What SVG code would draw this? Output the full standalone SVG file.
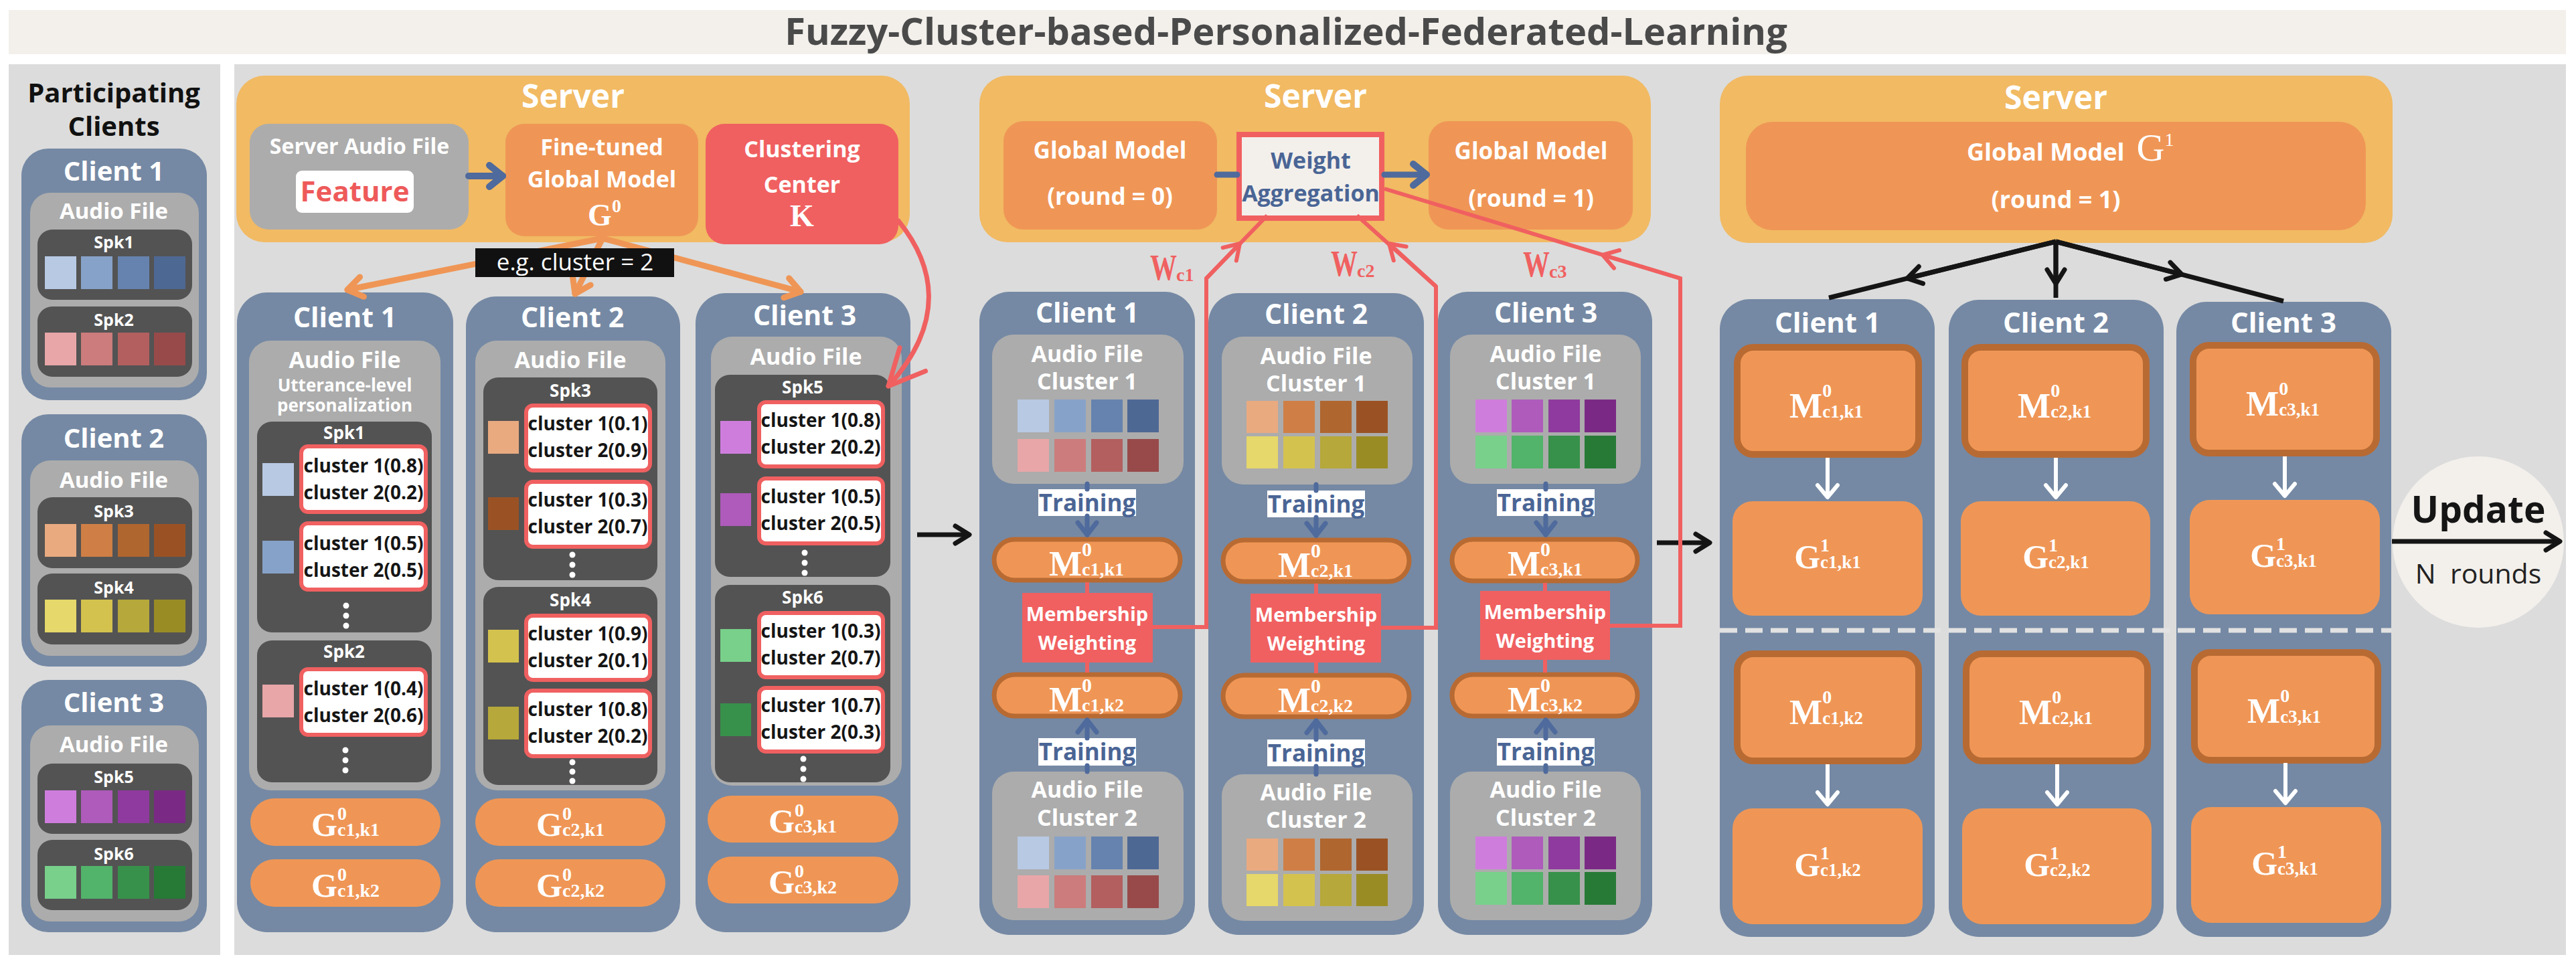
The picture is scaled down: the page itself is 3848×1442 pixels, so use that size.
<svg xmlns="http://www.w3.org/2000/svg" width="3848" height="1442" viewBox="0 0 3848 1442">
<defs>
<style>
.s{font-family:"Open Sans","Liberation Sans",Arial,sans-serif;font-weight:700;text-anchor:middle;fill:#fff}
.r{font-family:"Open Sans","Liberation Sans",Arial,sans-serif;font-weight:400;text-anchor:middle}
.m{font-family:"Liberation Serif","Times New Roman",serif;font-weight:700;text-anchor:middle;fill:#fff}
.wl{font-family:"Liberation Serif","Times New Roman",serif;font-weight:700;fill:#f06060}
.ct{font-family:"Open Sans","Liberation Sans",Arial,sans-serif;font-weight:700;font-size:28px;text-anchor:middle;fill:#151515}
.cl{fill:#7589a4}
.sv{fill:#f1ba63}
.or{fill:#ef9656}
.gy{fill:#acacac}
.sp{fill:#535353}
.rd{fill:#f06060}
.cb{fill:#fff;stroke:#f06060;stroke-width:6}
.mb{fill:#ef9656;stroke:#b86a33;stroke-width:7}
.mb3{fill:#ef9656;stroke:#b86a33;stroke-width:10}
.tb{fill:#fff}
.dt{fill:#fff}
.lb{stroke:#4f6a9c;fill:none;stroke-linecap:round}
.lo{stroke:#ef9656;stroke-width:9;fill:none;stroke-linecap:round}
.lr{stroke:#f06060;stroke-width:6;fill:none}
.lk{stroke:#151515;stroke-width:7;fill:none}
.lw{stroke:#fff;stroke-width:6;fill:none}
</style>
<marker id="aBl" markerUnits="userSpaceOnUse" viewBox="-30 -25 40 50" markerWidth="40" markerHeight="50" refX="0" refY="0" orient="auto" overflow="visible"><path d="M-20,-16 L0,0 L-20,16" fill="none" stroke="#4f6a9c" stroke-width="10" stroke-linecap="round" stroke-linejoin="round"/></marker>
<marker id="aBs" markerUnits="userSpaceOnUse" viewBox="-30 -25 40 50" markerWidth="40" markerHeight="50" refX="0" refY="0" orient="auto" overflow="visible"><path d="M-18,-14 L0,0 L-18,14" fill="none" stroke="#4f6a9c" stroke-width="7" stroke-linecap="round" stroke-linejoin="round"/></marker>
<marker id="aOr" markerUnits="userSpaceOnUse" viewBox="-30 -25 40 50" markerWidth="40" markerHeight="50" refX="0" refY="0" orient="auto" overflow="visible"><path d="M-22,-15 L0,0 L-22,15" fill="none" stroke="#ef9656" stroke-width="9" stroke-linecap="round" stroke-linejoin="round"/></marker>
<marker id="aRd" markerUnits="userSpaceOnUse" viewBox="-60 -35 70 70" markerWidth="70" markerHeight="70" refX="0" refY="0" orient="auto" overflow="visible"><path d="M-54,-26 L0,0 L-54,26" fill="none" stroke="#f06060" stroke-width="7" stroke-linecap="round" stroke-linejoin="round"/></marker>
<marker id="aRs" markerUnits="userSpaceOnUse" viewBox="-30 -25 40 50" markerWidth="40" markerHeight="50" refX="0" refY="0" orient="auto" overflow="visible"><path d="M-22,-14 L0,0 L-22,14" fill="none" stroke="#f06060" stroke-width="6" stroke-linecap="round" stroke-linejoin="round"/></marker>
<marker id="aBk" markerUnits="userSpaceOnUse" viewBox="-30 -25 40 50" markerWidth="40" markerHeight="50" refX="0" refY="0" orient="auto" overflow="visible"><path d="M-21,-13 L0,0 L-21,13" fill="none" stroke="#151515" stroke-width="7" stroke-linecap="round" stroke-linejoin="round"/></marker>
<marker id="aWt" markerUnits="userSpaceOnUse" viewBox="-30 -25 40 50" markerWidth="40" markerHeight="50" refX="0" refY="0" orient="auto" overflow="visible"><path d="M-18,-15 L0,0 L-18,15" fill="none" stroke="#fff" stroke-width="6" stroke-linecap="round" stroke-linejoin="round"/></marker>
</defs>

<rect width="3848" height="1442" fill="#fff"/>
<g id="title">
<rect x="13" y="15" width="3820" height="66" fill="#f3f0ec"/>
<text class="s" x="1921" y="67" font-size="56" style="fill:#4a4a4a">Fuzzy-Cluster-based-Personalized-Federated-Learning</text>
</g>
<g id="panels">
<rect x="13" y="96" width="316" height="1331" fill="#dcdcdc"/>
<rect x="350" y="96" width="3483" height="1331" fill="#dcdcdc"/>
</g>

<g id="participating-clients">
<text class="s" x="170" y="153" font-size="40" style="fill:#111">Participating</text>
<text class="s" x="170" y="203" font-size="40" style="fill:#111">Clients</text>
</g>
<g id="pc-client1">
<rect class="cl" x="32" y="222" width="277" height="376" rx="40"/>
<text class="s" x="170" y="270" font-size="40">Client 1</text>
<rect class="gy" x="45" y="288" width="252" height="291" rx="30"/>
<text class="s" x="170" y="327" font-size="33">Audio File</text>
<rect class="sp" x="56" y="343" width="231" height="105" rx="22"/>
<text class="s" x="170" y="371" font-size="25">Spk1</text>
<rect x="67" y="383" width="47" height="49" fill="#b8c9e4"/><rect x="121" y="383" width="47" height="49" fill="#87a2c9"/><rect x="176" y="383" width="47" height="49" fill="#6583ae"/><rect x="230" y="383" width="47" height="49" fill="#4e6894"/>
<rect class="sp" x="56" y="458" width="231" height="105" rx="22"/>
<text class="s" x="170" y="487" font-size="25">Spk2</text>
<rect x="67" y="497" width="47" height="49" fill="#e8a6a8"/><rect x="121" y="497" width="47" height="49" fill="#cc7c7c"/><rect x="176" y="497" width="47" height="49" fill="#b35f5f"/><rect x="230" y="497" width="47" height="49" fill="#984a4a"/>
</g>
<g id="pc-client2">
<rect class="cl" x="32" y="619" width="277" height="377" rx="40"/>
<text class="s" x="170" y="669" font-size="40">Client 2</text>
<rect class="gy" x="45" y="688" width="252" height="292" rx="30"/>
<text class="s" x="170" y="729" font-size="33">Audio File</text>
<rect class="sp" x="56" y="743" width="231" height="106" rx="22"/>
<text class="s" x="170" y="773" font-size="25">Spk3</text>
<rect x="67" y="783" width="47" height="49" fill="#e9aa80"/><rect x="121" y="783" width="47" height="49" fill="#cf7f45"/><rect x="176" y="783" width="47" height="49" fill="#b0662f"/><rect x="230" y="783" width="47" height="49" fill="#9a5224"/>
<rect class="sp" x="56" y="857" width="231" height="106" rx="22"/>
<text class="s" x="170" y="887" font-size="25">Spk4</text>
<rect x="67" y="896" width="47" height="49" fill="#e6d86a"/><rect x="121" y="896" width="47" height="49" fill="#d4c24e"/><rect x="176" y="896" width="47" height="49" fill="#b6a83a"/><rect x="230" y="896" width="47" height="49" fill="#9a8c25"/>
</g>
<g id="pc-client3">
<rect class="cl" x="32" y="1016" width="277" height="377" rx="40"/>
<text class="s" x="170" y="1064" font-size="40">Client 3</text>
<rect class="gy" x="45" y="1084" width="252" height="293" rx="30"/>
<text class="s" x="170" y="1124" font-size="33">Audio File</text>
<rect class="sp" x="56" y="1141" width="231" height="105" rx="22"/>
<text class="s" x="170" y="1170" font-size="25">Spk5</text>
<rect x="67" y="1181" width="47" height="49" fill="#cf7ddd"/><rect x="121" y="1181" width="47" height="49" fill="#ae5bbb"/><rect x="176" y="1181" width="47" height="49" fill="#8f3a9e"/><rect x="230" y="1181" width="47" height="49" fill="#7a2a85"/>
<rect class="sp" x="56" y="1255" width="231" height="105" rx="22"/>
<text class="s" x="170" y="1285" font-size="25">Spk6</text>
<rect x="67" y="1294" width="47" height="49" fill="#78d08a"/><rect x="121" y="1294" width="47" height="49" fill="#52b36a"/><rect x="176" y="1294" width="47" height="49" fill="#37914a"/><rect x="230" y="1294" width="47" height="49" fill="#267a36"/>
</g>

<g id="s1-server">
<rect class="sv" x="353" y="113" width="1006" height="249" rx="42"/>
<text class="s" x="856" y="161" font-size="48">Server</text>
</g>
<g id="s1-server-audio">
<rect class="gy" x="373" y="185" width="327" height="158" rx="28"/>
<text class="s" x="537" y="230" font-size="32">Server Audio File</text>
<rect x="442" y="255" width="176" height="63" rx="9" fill="#fff"/>
<text class="s" x="530" y="301" font-size="42" style="fill:#ee5a5a">Feature</text>
</g>
<g id="s1-finetuned">
<rect class="or" x="755" y="185" width="288" height="168" rx="28"/>
<text class="s" x="899" y="232" font-size="34">Fine-tuned</text>
<text class="s" x="899" y="280" font-size="34">Global Model</text>
<text class="m" x="903" y="337" font-size="46">G<tspan font-size="28" dy="-20">0</tspan></text>
</g>
<g id="s1-clustering">
<rect class="rd" x="1054" y="185" width="288" height="180" rx="28"/>
<text class="s" x="1198" y="235" font-size="34">Clustering</text>
<text class="s" x="1198" y="288" font-size="34">Center</text>
<text class="m" x="1198" y="338" font-size="46">K</text>
</g>

<g id="s1-client1">
<rect class="cl" x="354" y="437" width="323" height="956" rx="45"/>
<text class="s" x="515" y="489" font-size="41">Client 1</text>
<rect class="gy" x="372" y="509" width="286" height="672" rx="32"/>
<text class="s" x="515" y="550" font-size="34">Audio File</text>
<text class="s" x="515" y="585" font-size="26">Utterance-level</text>
<text class="s" x="515" y="615" font-size="26">personalization</text>
<rect class="sp" x="384" y="630" width="261" height="315" rx="22"/>
<text class="s" x="514" y="656" font-size="26">Spk1</text>
<rect x="392" y="692" width="47" height="49" fill="#b8c9e4"/>
<rect class="cb" x="450" y="667" width="186" height="98" rx="10"/>
<text class="ct" x="543" y="706">cluster 1(0.8)</text><text class="ct" x="543" y="746">cluster 2(0.2)</text>
<rect x="392" y="808" width="47" height="49" fill="#87a2c9"/>
<rect class="cb" x="450" y="782" width="186" height="99" rx="10"/>
<text class="ct" x="543" y="822">cluster 1(0.5)</text><text class="ct" x="543" y="862">cluster 2(0.5)</text>
<circle class="dt" cx="517" cy="905" r="4.5"/><circle class="dt" cx="517" cy="920" r="4.5"/><circle class="dt" cx="517" cy="935" r="4.5"/>
<rect class="sp" x="384" y="957" width="261" height="212" rx="22"/>
<text class="s" x="514" y="983" font-size="26">Spk2</text>
<rect x="392" y="1023" width="47" height="49" fill="#e8a6a8"/>
<rect class="cb" x="450" y="1000" width="186" height="98" rx="10"/>
<text class="ct" x="543" y="1039">cluster 1(0.4)</text><text class="ct" x="543" y="1079">cluster 2(0.6)</text>
<circle class="dt" cx="516" cy="1121" r="4.5"/><circle class="dt" cx="516" cy="1136" r="4.5"/><circle class="dt" cx="516" cy="1151" r="4.5"/>
<rect class="or" x="374" y="1193" width="284" height="71" rx="35.5"/>
<text class="m" x="516" y="1249" font-size="50">G<tspan font-size="28" dy="-24">0</tspan><tspan font-size="28" dx="-14" dy="24">c1,k1</tspan></text>
<rect class="or" x="374" y="1284" width="284" height="71" rx="35.5"/>
<text class="m" x="516" y="1340" font-size="50">G<tspan font-size="28" dy="-24">0</tspan><tspan font-size="28" dx="-14" dy="24">c1,k2</tspan></text>
</g>
<g id="s1-client2">
<rect class="cl" x="696" y="443" width="320" height="950" rx="45"/>
<text class="s" x="855" y="489" font-size="41">Client 2</text>
<rect class="gy" x="710" y="509" width="284" height="672" rx="32"/>
<text class="s" x="852" y="550" font-size="34">Audio File</text>
<rect class="sp" x="722" y="564" width="260" height="303" rx="22"/>
<text class="s" x="852" y="593" font-size="26">Spk3</text>
<rect x="729" y="629" width="46" height="49" fill="#e9aa80"/>
<rect class="cb" x="786" y="606" width="185" height="97" rx="10"/>
<text class="ct" x="878" y="643">cluster 1(0.1)</text><text class="ct" x="878" y="683">cluster 2(0.9)</text>
<rect x="729" y="743" width="46" height="49" fill="#9a5224"/>
<rect class="cb" x="786" y="720" width="185" height="97" rx="10"/>
<text class="ct" x="878" y="757">cluster 1(0.3)</text><text class="ct" x="878" y="797">cluster 2(0.7)</text>
<circle class="dt" cx="855" cy="829" r="4.5"/><circle class="dt" cx="855" cy="844" r="4.5"/><circle class="dt" cx="855" cy="859" r="4.5"/>
<rect class="sp" x="722" y="877" width="260" height="296" rx="22"/>
<text class="s" x="852" y="906" font-size="26">Spk4</text>
<rect x="729" y="941" width="46" height="49" fill="#d4c24e"/>
<rect class="cb" x="786" y="920" width="185" height="96" rx="10"/>
<text class="ct" x="878" y="957">cluster 1(0.9)</text><text class="ct" x="878" y="997">cluster 2(0.1)</text>
<rect x="729" y="1056" width="46" height="49" fill="#b6a83a"/>
<rect class="cb" x="786" y="1032" width="185" height="98" rx="10"/>
<text class="ct" x="878" y="1070">cluster 1(0.8)</text><text class="ct" x="878" y="1110">cluster 2(0.2)</text>
<circle class="dt" cx="855" cy="1139" r="4.5"/><circle class="dt" cx="855" cy="1153" r="4.5"/><circle class="dt" cx="855" cy="1167" r="4.5"/>
<rect class="or" x="710" y="1193" width="284" height="71" rx="35.5"/>
<text class="m" x="852" y="1249" font-size="50">G<tspan font-size="28" dy="-24">0</tspan><tspan font-size="28" dx="-14" dy="24">c2,k1</tspan></text>
<rect class="or" x="710" y="1284" width="284" height="71" rx="35.5"/>
<text class="m" x="852" y="1340" font-size="50">G<tspan font-size="28" dy="-24">0</tspan><tspan font-size="28" dx="-14" dy="24">c2,k2</tspan></text>
</g>
<g id="s1-client3">
<rect class="cl" x="1039" y="438" width="321" height="955" rx="45"/>
<text class="s" x="1202" y="486" font-size="41">Client 3</text>
<rect class="gy" x="1062" y="503" width="285" height="671" rx="32"/>
<text class="s" x="1204" y="545" font-size="34">Audio File</text>
<rect class="sp" x="1068" y="560" width="262" height="302" rx="22"/>
<text class="s" x="1199" y="588" font-size="26">Spk5</text>
<rect x="1076" y="629" width="46" height="49" fill="#cf7ddd"/>
<rect class="cb" x="1134" y="601" width="185" height="96" rx="10"/>
<text class="ct" x="1226" y="638">cluster 1(0.8)</text><text class="ct" x="1226" y="678">cluster 2(0.2)</text>
<rect x="1076" y="737" width="46" height="49" fill="#ae5bbb"/>
<rect class="cb" x="1134" y="715" width="185" height="97" rx="10"/>
<text class="ct" x="1226" y="752">cluster 1(0.5)</text><text class="ct" x="1226" y="792">cluster 2(0.5)</text>
<circle class="dt" cx="1202" cy="826" r="4.5"/><circle class="dt" cx="1202" cy="841" r="4.5"/><circle class="dt" cx="1202" cy="856" r="4.5"/>
<rect class="sp" x="1068" y="874" width="262" height="295" rx="22"/>
<text class="s" x="1199" y="902" font-size="26">Spk6</text>
<rect x="1076" y="940" width="46" height="49" fill="#78d08a"/>
<rect class="cb" x="1134" y="916" width="185" height="96" rx="10"/>
<text class="ct" x="1226" y="953">cluster 1(0.3)</text><text class="ct" x="1226" y="993">cluster 2(0.7)</text>
<rect x="1076" y="1051" width="46" height="49" fill="#37914a"/>
<rect class="cb" x="1134" y="1028" width="185" height="95" rx="10"/>
<text class="ct" x="1226" y="1064">cluster 1(0.7)</text><text class="ct" x="1226" y="1104">cluster 2(0.3)</text>
<circle class="dt" cx="1200" cy="1134" r="4.5"/><circle class="dt" cx="1200" cy="1149" r="4.5"/><circle class="dt" cx="1200" cy="1164" r="4.5"/>
<rect class="or" x="1057" y="1189" width="285" height="70" rx="35"/>
<text class="m" x="1199" y="1244" font-size="50">G<tspan font-size="28" dy="-24">0</tspan><tspan font-size="28" dx="-14" dy="24">c3,k1</tspan></text>
<rect class="or" x="1057" y="1280" width="285" height="70" rx="35"/>
<text class="m" x="1199" y="1335" font-size="50">G<tspan font-size="28" dy="-24">0</tspan><tspan font-size="28" dx="-14" dy="24">c3,k2</tspan></text>
</g>

<g id="s2-server">
<rect class="sv" x="1463" y="113" width="1003" height="249" rx="42"/>
<text class="s" x="1965" y="161" font-size="48">Server</text>
</g>
<g id="s2-global0">
<rect class="or" x="1499" y="181" width="319" height="162" rx="30"/>
<text class="s" x="1658" y="237" font-size="35">Global Model</text>
<text class="s" x="1658" y="306" font-size="35">(round = 0)</text>
</g>
<g id="s2-aggregation">
<rect x="1851" y="201" width="213" height="125" fill="#f3f0ec" stroke="#f06060" stroke-width="8"/>
<text class="s" x="1958" y="252" font-size="34" style="fill:#4a6595">Weight</text>
<text class="s" x="1958" y="301" font-size="34" style="fill:#4a6595">Aggregation</text>
</g>
<g id="s2-global1">
<rect class="or" x="2134" y="181" width="305" height="162" rx="30"/>
<text class="s" x="2287" y="238" font-size="35">Global Model</text>
<text class="s" x="2287" y="309" font-size="35">(round = 1)</text>
</g>

<g id="s2-client1">
<rect class="cl" x="1463" y="436" width="322" height="961" rx="45"/>
<text class="s" x="1624" y="482" font-size="41">Client 1</text>
<rect class="gy" x="1482" y="500" width="286" height="223" rx="32"/>
<text class="s" x="1624" y="541" font-size="34">Audio File</text>
<text class="s" x="1624" y="582" font-size="34">Cluster 1</text>
<rect x="1520" y="597" width="47" height="49" fill="#b8c9e4"/><rect x="1575" y="597" width="47" height="49" fill="#87a2c9"/><rect x="1630" y="597" width="47" height="49" fill="#6583ae"/><rect x="1684" y="597" width="47" height="49" fill="#4e6894"/>
<rect x="1520" y="656" width="47" height="49" fill="#e8a6a8"/><rect x="1575" y="656" width="47" height="49" fill="#cc7c7c"/><rect x="1630" y="656" width="47" height="49" fill="#b35f5f"/><rect x="1684" y="656" width="47" height="49" fill="#984a4a"/>
<rect class="tb" x="1551" y="731" width="146" height="40"/>
<text class="s" x="1624" y="764" font-size="35" style="fill:#4a6595">Training</text>
<rect class="mb" x="1485" y="806" width="278" height="61" rx="30.5"/>
<text class="m" x="1623" y="860" font-size="52">M<tspan font-size="30" dy="-29">0</tspan><tspan font-size="28" dx="-15" dy="29">c1,k1</tspan></text>
<rect class="rd" x="1527" y="886" width="195" height="104"/>
<text class="s" x="1624" y="928" font-size="29">Membership</text>
<text class="s" x="1624" y="971" font-size="29">Weighting</text>
<rect class="mb" x="1485" y="1008" width="278" height="62" rx="31"/>
<text class="m" x="1623" y="1063" font-size="52">M<tspan font-size="30" dy="-29">0</tspan><tspan font-size="28" dx="-15" dy="29">c1,k2</tspan></text>
<rect class="tb" x="1551" y="1103" width="146" height="41"/>
<text class="s" x="1624" y="1136" font-size="35" style="fill:#4a6595">Training</text>
<rect class="gy" x="1482" y="1153" width="286" height="222" rx="32"/>
<text class="s" x="1624" y="1192" font-size="34">Audio File</text>
<text class="s" x="1624" y="1234" font-size="34">Cluster 2</text>
<rect x="1520" y="1250" width="47" height="49" fill="#b8c9e4"/><rect x="1575" y="1250" width="47" height="49" fill="#87a2c9"/><rect x="1630" y="1250" width="47" height="49" fill="#6583ae"/><rect x="1684" y="1250" width="47" height="49" fill="#4e6894"/>
<rect x="1520" y="1308" width="47" height="49" fill="#e8a6a8"/><rect x="1575" y="1308" width="47" height="49" fill="#cc7c7c"/><rect x="1630" y="1308" width="47" height="49" fill="#b35f5f"/><rect x="1684" y="1308" width="47" height="49" fill="#984a4a"/>
</g>
<g id="s2-client2">
<rect class="cl" x="1805" y="438" width="322" height="959" rx="45"/>
<text class="s" x="1966" y="484" font-size="41">Client 2</text>
<rect class="gy" x="1825" y="503" width="285" height="221" rx="32"/>
<text class="s" x="1966" y="544" font-size="34">Audio File</text>
<text class="s" x="1966" y="585" font-size="34">Cluster 1</text>
<rect x="1862" y="599" width="47" height="48" fill="#e9aa80"/><rect x="1917" y="599" width="47" height="48" fill="#cf7f45"/><rect x="1972" y="599" width="47" height="48" fill="#b0662f"/><rect x="2026" y="599" width="47" height="48" fill="#9a5224"/>
<rect x="1862" y="652" width="47" height="48" fill="#e6d86a"/><rect x="1917" y="652" width="47" height="48" fill="#d4c24e"/><rect x="1972" y="652" width="47" height="48" fill="#b6a83a"/><rect x="2026" y="652" width="47" height="48" fill="#9a8c25"/>
<rect class="tb" x="1893" y="733" width="146" height="40"/>
<text class="s" x="1966" y="766" font-size="35" style="fill:#4a6595">Training</text>
<rect class="mb" x="1827" y="807" width="278" height="62" rx="31"/>
<text class="m" x="1965" y="862" font-size="52">M<tspan font-size="30" dy="-29">0</tspan><tspan font-size="28" dx="-15" dy="29">c2,k1</tspan></text>
<rect class="rd" x="1868" y="887" width="195" height="103"/>
<text class="s" x="1966" y="929" font-size="29">Membership</text>
<text class="s" x="1966" y="972" font-size="29">Weighting</text>
<rect class="mb" x="1827" y="1009" width="278" height="62" rx="31"/>
<text class="m" x="1965" y="1064" font-size="52">M<tspan font-size="30" dy="-29">0</tspan><tspan font-size="28" dx="-15" dy="29">c2,k2</tspan></text>
<rect class="tb" x="1893" y="1105" width="146" height="40"/>
<text class="s" x="1966" y="1138" font-size="35" style="fill:#4a6595">Training</text>
<rect class="gy" x="1825" y="1157" width="285" height="219" rx="32"/>
<text class="s" x="1966" y="1196" font-size="34">Audio File</text>
<text class="s" x="1966" y="1237" font-size="34">Cluster 2</text>
<rect x="1862" y="1253" width="47" height="48" fill="#e9aa80"/><rect x="1917" y="1253" width="47" height="48" fill="#cf7f45"/><rect x="1972" y="1253" width="47" height="48" fill="#b0662f"/><rect x="2026" y="1253" width="47" height="48" fill="#9a5224"/>
<rect x="1862" y="1306" width="47" height="48" fill="#e6d86a"/><rect x="1917" y="1306" width="47" height="48" fill="#d4c24e"/><rect x="1972" y="1306" width="47" height="48" fill="#b6a83a"/><rect x="2026" y="1306" width="47" height="48" fill="#9a8c25"/>
</g>
<g id="s2-client3">
<rect class="cl" x="2148" y="436" width="320" height="961" rx="45"/>
<text class="s" x="2309" y="482" font-size="41">Client 3</text>
<rect class="gy" x="2166" y="500" width="285" height="223" rx="32"/>
<text class="s" x="2309" y="541" font-size="34">Audio File</text>
<text class="s" x="2309" y="582" font-size="34">Cluster 1</text>
<rect x="2204" y="597" width="47" height="49" fill="#cf7ddd"/><rect x="2258" y="597" width="47" height="49" fill="#ae5bbb"/><rect x="2313" y="597" width="47" height="49" fill="#8f3a9e"/><rect x="2367" y="597" width="47" height="49" fill="#7a2a85"/>
<rect x="2204" y="651" width="47" height="49" fill="#78d08a"/><rect x="2258" y="651" width="47" height="49" fill="#52b36a"/><rect x="2313" y="651" width="47" height="49" fill="#37914a"/><rect x="2367" y="651" width="47" height="49" fill="#267a36"/>
<rect class="tb" x="2236" y="731" width="146" height="40"/>
<text class="s" x="2309" y="764" font-size="35" style="fill:#4a6595">Training</text>
<rect class="mb" x="2169" y="806" width="277" height="62" rx="31"/>
<text class="m" x="2308" y="860" font-size="52">M<tspan font-size="30" dy="-29">0</tspan><tspan font-size="28" dx="-15" dy="29">c3,k1</tspan></text>
<rect class="rd" x="2211" y="883" width="194" height="103"/>
<text class="s" x="2308" y="925" font-size="29">Membership</text>
<text class="s" x="2308" y="968" font-size="29">Weighting</text>
<rect class="mb" x="2169" y="1008" width="277" height="62" rx="31"/>
<text class="m" x="2308" y="1063" font-size="52">M<tspan font-size="30" dy="-29">0</tspan><tspan font-size="28" dx="-15" dy="29">c3,k2</tspan></text>
<rect class="tb" x="2236" y="1103" width="146" height="41"/>
<text class="s" x="2309" y="1136" font-size="35" style="fill:#4a6595">Training</text>
<rect class="gy" x="2166" y="1153" width="285" height="222" rx="32"/>
<text class="s" x="2309" y="1192" font-size="34">Audio File</text>
<text class="s" x="2309" y="1234" font-size="34">Cluster 2</text>
<rect x="2204" y="1250" width="47" height="49" fill="#cf7ddd"/><rect x="2258" y="1250" width="47" height="49" fill="#ae5bbb"/><rect x="2313" y="1250" width="47" height="49" fill="#8f3a9e"/><rect x="2367" y="1250" width="47" height="49" fill="#7a2a85"/>
<rect x="2204" y="1303" width="47" height="49" fill="#78d08a"/><rect x="2258" y="1303" width="47" height="49" fill="#52b36a"/><rect x="2313" y="1303" width="47" height="49" fill="#37914a"/><rect x="2367" y="1303" width="47" height="49" fill="#267a36"/>
</g>

<g id="s3-server">
<rect class="sv" x="2569" y="113" width="1005" height="250" rx="42"/>
<text class="s" x="3071" y="163" font-size="48">Server</text>
<rect class="or" x="2608" y="182" width="926" height="162" rx="40"/>
<text class="s" x="2938" y="240" font-size="36" style="text-anchor:start">Global Model<tspan dx="18" font-family="Liberation Serif, Times New Roman, serif" font-weight="400" font-size="58">G</tspan><tspan font-family="Liberation Serif, Times New Roman, serif" font-weight="400" font-size="28" dy="-22">1</tspan></text>
<text class="s" x="3071" y="311" font-size="36">(round = 1)</text>
</g>
<g id="s3-client1">
<rect class="cl" x="2569" y="447" width="321" height="953" rx="45"/>
<text class="s" x="2730" y="497" font-size="42">Client 1</text>
<rect class="mb3" x="2595" y="519" width="271" height="160" rx="24"/>
<text class="m" x="2728" y="624" font-size="52">M<tspan font-size="28" dy="-31">0</tspan><tspan font-size="27" dx="-14" dy="31">c1,k1</tspan></text>
<rect class="or" x="2588" y="749" width="284" height="171" rx="30"/>
<text class="m" x="2730" y="849" font-size="50">G<tspan font-size="28" dy="-25">1</tspan><tspan font-size="27" dx="-14" dy="25">c1,k1</tspan></text>
<rect class="mb3" x="2595" y="977" width="271" height="160" rx="24"/>
<text class="m" x="2728" y="1082" font-size="52">M<tspan font-size="28" dy="-31">0</tspan><tspan font-size="27" dx="-14" dy="31">c1,k2</tspan></text>
<rect class="or" x="2588" y="1208" width="284" height="173" rx="30"/>
<text class="m" x="2730" y="1309" font-size="50">G<tspan font-size="28" dy="-25">1</tspan><tspan font-size="27" dx="-14" dy="25">c1,k2</tspan></text>
</g>
<g id="s3-client2">
<rect class="cl" x="2911" y="448" width="321" height="952" rx="45"/>
<text class="s" x="3071" y="497" font-size="42">Client 2</text>
<rect class="mb3" x="2935" y="519" width="271" height="160" rx="24"/>
<text class="m" x="3069" y="624" font-size="52">M<tspan font-size="28" dy="-31">0</tspan><tspan font-size="27" dx="-14" dy="31">c2,k1</tspan></text>
<rect class="or" x="2929" y="749" width="283" height="171" rx="30"/>
<text class="m" x="3071" y="849" font-size="50">G<tspan font-size="28" dy="-25">1</tspan><tspan font-size="27" dx="-14" dy="25">c2,k1</tspan></text>
<rect class="mb3" x="2937" y="977" width="271" height="160" rx="24"/>
<text class="m" x="3071" y="1082" font-size="52">M<tspan font-size="28" dy="-31">0</tspan><tspan font-size="27" dx="-14" dy="31">c2,k1</tspan></text>
<rect class="or" x="2931" y="1208" width="283" height="173" rx="30"/>
<text class="m" x="3073" y="1309" font-size="50">G<tspan font-size="28" dy="-25">1</tspan><tspan font-size="27" dx="-14" dy="25">c2,k2</tspan></text>
</g>
<g id="s3-client3">
<rect class="cl" x="3251" y="451" width="321" height="949" rx="45"/>
<text class="s" x="3411" y="497" font-size="42">Client 3</text>
<rect class="mb3" x="3276" y="516" width="274" height="161" rx="24"/>
<text class="m" x="3410" y="621" font-size="52">M<tspan font-size="28" dy="-31">0</tspan><tspan font-size="27" dx="-14" dy="31">c3,k1</tspan></text>
<rect class="or" x="3271" y="747" width="284" height="171" rx="30"/>
<text class="m" x="3411" y="847" font-size="50">G<tspan font-size="28" dy="-25">1</tspan><tspan font-size="27" dx="-14" dy="25">c3,k1</tspan></text>
<rect class="mb3" x="3278" y="975" width="274" height="161" rx="24"/>
<text class="m" x="3412" y="1080" font-size="52">M<tspan font-size="28" dy="-31">0</tspan><tspan font-size="27" dx="-14" dy="31">c3,k1</tspan></text>
<rect class="or" x="3273" y="1206" width="284" height="173" rx="30"/>
<text class="m" x="3413" y="1307" font-size="50">G<tspan font-size="28" dy="-25">1</tspan><tspan font-size="27" dx="-14" dy="25">c3,k1</tspan></text>
</g>
<g id="update">
<circle cx="3702" cy="810" r="128" fill="#f3f0ec"/>
<text class="s" x="3702" y="781" font-size="55" style="fill:#151515">Update</text>
<text class="r" x="3702" y="872" font-size="41" fill="#222" style="white-space:pre">N  rounds</text>
</g>

<g id="connectors">
<line class="lb" x1="700" y1="263" x2="751" y2="263" stroke-width="10" marker-end="url(#aBl)"/>
<line class="lo" x1="900" y1="356" x2="519" y2="433" marker-end="url(#aOr)"/>
<line class="lo" x1="900" y1="356" x2="859" y2="439" marker-end="url(#aOr)"/>
<line class="lo" x1="900" y1="356" x2="1196" y2="436" marker-end="url(#aOr)"/>
<path d="M1342,330 C1395,395 1415,480 1327,577" fill="none" stroke="#f06060" stroke-width="7" stroke-linecap="round" marker-end="url(#aRd)"/>
<line class="lk" x1="1370" y1="799" x2="1448" y2="799" marker-end="url(#aBk)"/>
<line class="lk" x1="2475" y1="811" x2="2554" y2="811" marker-end="url(#aBk)"/>
<line class="lb" x1="1818" y1="261" x2="1848" y2="261" stroke-width="9"/>
<line class="lb" x1="2068" y1="261" x2="2131" y2="261" stroke-width="9" marker-end="url(#aBl)"/>
<line class="lb" x1="1624" y1="723" x2="1624" y2="731" stroke-width="7"/>
<line class="lb" x1="1624" y1="771" x2="1624" y2="799" stroke-width="7" marker-end="url(#aBs)"/>
<line class="lb" x1="1624" y1="1153" x2="1624" y2="1144" stroke-width="7"/>
<line class="lb" x1="1624" y1="1103" x2="1624" y2="1076" stroke-width="7" marker-end="url(#aBs)"/>
<line class="lb" x1="1966" y1="724" x2="1966" y2="733" stroke-width="7"/>
<line class="lb" x1="1966" y1="773" x2="1966" y2="800" stroke-width="7" marker-end="url(#aBs)"/>
<line class="lb" x1="1966" y1="1157" x2="1966" y2="1145" stroke-width="7"/>
<line class="lb" x1="1966" y1="1105" x2="1966" y2="1077" stroke-width="7" marker-end="url(#aBs)"/>
<line class="lb" x1="2309" y1="723" x2="2309" y2="731" stroke-width="7"/>
<line class="lb" x1="2309" y1="771" x2="2309" y2="799" stroke-width="7" marker-end="url(#aBs)"/>
<line class="lb" x1="2309" y1="1153" x2="2309" y2="1144" stroke-width="7"/>
<line class="lb" x1="2309" y1="1103" x2="2309" y2="1076" stroke-width="7" marker-end="url(#aBs)"/>
<line class="lr" x1="1624" y1="870" x2="1624" y2="886" stroke-width="7"/>
<line class="lr" x1="1624" y1="990" x2="1624" y2="1005" stroke-width="7"/>
<line class="lr" x1="1966" y1="872" x2="1966" y2="887" stroke-width="7"/>
<line class="lr" x1="1966" y1="990" x2="1966" y2="1006" stroke-width="7"/>
<line class="lr" x1="2308" y1="871" x2="2308" y2="883" stroke-width="7"/>
<line class="lr" x1="2308" y1="986" x2="2308" y2="1005" stroke-width="7"/>
<polyline class="lr" points="1722,937 1802,937 1802,416 1893,322"/>
<line class="lr" x1="1802" y1="416" x2="1852" y2="364" marker-end="url(#aRs)"/>
<polyline class="lr" points="2063,938 2145,938 2145,428 2027,322"/>
<line class="lr" x1="2145" y1="428" x2="2075" y2="364" marker-end="url(#aRs)"/>
<polyline class="lr" points="2405,935 2510,935 2510,416 2068,282"/>
<line class="lr" x1="2510" y1="416" x2="2394" y2="381" marker-end="url(#aRs)"/>
<line class="lk" x1="3071" y1="361" x2="2732" y2="445" stroke-width="6"/>
<line class="lk" x1="3071" y1="361" x2="2849" y2="416" stroke-width="6" marker-end="url(#aBk)"/>
<line class="lk" x1="3071" y1="361" x2="3071" y2="445" stroke-width="6"/>
<line class="lk" x1="3071" y1="361" x2="3071" y2="424" stroke-width="6" marker-end="url(#aBk)"/>
<line class="lk" x1="3071" y1="361" x2="3411" y2="450" stroke-width="6"/>
<line class="lk" x1="3071" y1="361" x2="3259" y2="410" stroke-width="6" marker-end="url(#aBk)"/>
<line class="lw" x1="2730" y1="684" x2="2730" y2="743" marker-end="url(#aWt)"/>
<line class="lw" x1="2730" y1="1142" x2="2730" y2="1202" marker-end="url(#aWt)"/>
<line class="lw" x1="3071" y1="684" x2="3071" y2="743" marker-end="url(#aWt)"/>
<line class="lw" x1="3073" y1="1142" x2="3073" y2="1202" marker-end="url(#aWt)"/>
<line class="lw" x1="3413" y1="682" x2="3413" y2="741" marker-end="url(#aWt)"/>
<line class="lw" x1="3414" y1="1140" x2="3414" y2="1200" marker-end="url(#aWt)"/>
<line x1="2569" y1="942" x2="3572" y2="942" stroke="#e2e2e2" stroke-width="7" stroke-dasharray="26 12"/>
<line class="lk" x1="3573" y1="809" x2="3824" y2="809" stroke-width="6" marker-end="url(#aBk)"/>
</g>

<g id="labels">
<rect x="710" y="371" width="297" height="43" fill="#111"/>
<text class="r" x="859" y="404" font-size="35" fill="#fff">e.g. cluster = 2</text>
<text class="wl" transform="translate(1718,418) scale(0.74,1)" font-size="54">W</text>
<text class="wl" x="1757" y="420" font-size="28">c1</text>
<text class="wl" transform="translate(1988,412) scale(0.74,1)" font-size="54">W</text>
<text class="wl" x="2027" y="414" font-size="28">c2</text>
<text class="wl" transform="translate(2275,413) scale(0.74,1)" font-size="54">W</text>
<text class="wl" x="2314" y="415" font-size="28">c3</text>
</g>
</svg>
